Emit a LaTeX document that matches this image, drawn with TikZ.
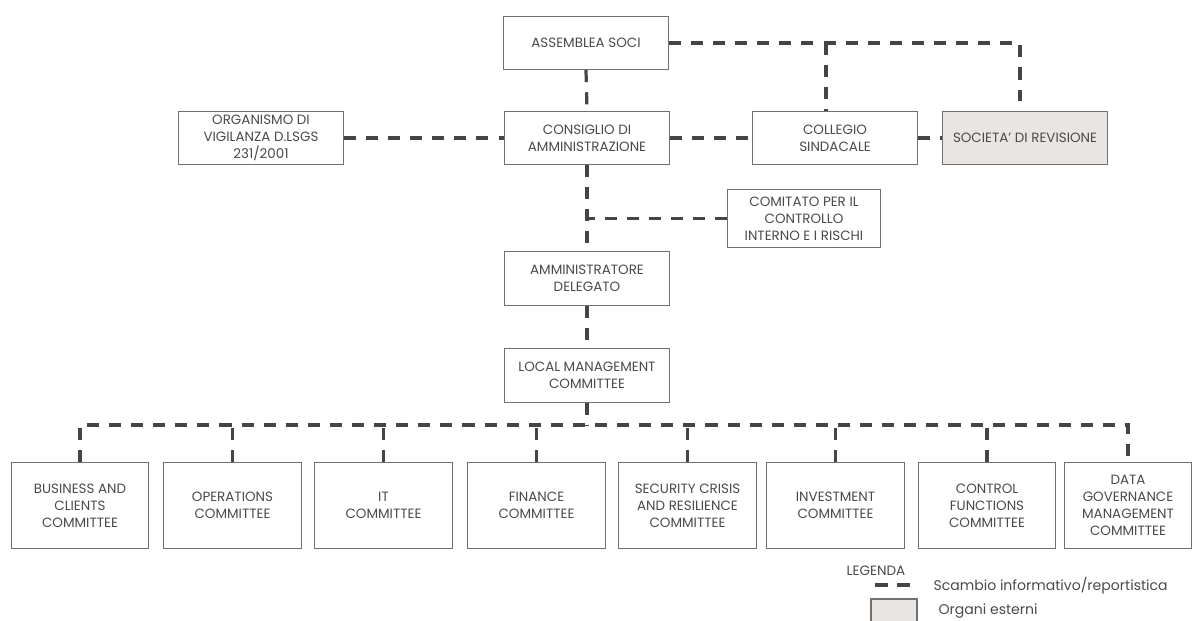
\documentclass[tikz,border=0pt]{standalone}
\usepackage{fontspec}
\setmainfont{Poppins}
\usepackage{xcolor}
\usepackage{tikz}
\definecolor{boxgray}{HTML}{707070}
\definecolor{txtgray}{HTML}{4A4A4A}
\definecolor{linkgray}{HTML}{454545}
\definecolor{extgray}{HTML}{E9E5E3}

\begin{document}
\begin{tikzpicture}[x=0.35cm,y=0.35cm,
    box/.style={draw=boxgray, line width=1.1pt, text=txtgray, align=center,
        minimum width=164pt, minimum height=53pt, inner sep=0pt,
        font=\fontsize{13.4}{17}\selectfont},
    extbox/.style={box, fill=extgray},
    cbox/.style={box, minimum width=137pt, minimum height=85pt},
    legtext/.style={anchor=west, text=txtgray, font=\fontsize{14}{16}\selectfont},
    link/.style={draw=linkgray, line width=3.2pt, dash pattern=on 12pt off 10pt}]
                \useasboundingbox (0,0) rectangle (119.3,-62.1);
                \node [box] (assemblea) at (58.6,-4.3) {ASSEMBLEA SOCI};
                \node [box] (consiglio) at (58.7,-13.8) {CONSIGLIO DI\\AMMINISTRAZIONE};
                \node [box] (organismo) at (26.1,-13.8) {ORGANISMO DI\\VIGILANZA D.LSGS\\231/2001};
                \node [box] (collegio) at (83.5,-13.8) {COLLEGIO\\SINDACALE};
                \node [extbox] (societa) at (102.5,-13.8) {SOCIETA' DI REVISIONE};
                \node [box, minimum width=152pt, minimum height=57pt] (comitato) at (80.4,-21.85) {COMITATO PER IL\\CONTROLLO\\INTERNO E I RISCHI};
                \node [box] (ammin) at (58.7,-27.85) {AMMINISTRATORE\\DELEGATO};
                \node [box] (local) at (58.7,-37.55) {LOCAL MANAGEMENT\\COMMITTEE};
                \coordinate (bus) at (58.7,-42.5);
                \node [cbox] (business) at (8.0,-50.55) {BUSINESS AND\\CLIENTS\\COMMITTEE};
                \node [cbox] (operations) at (23.25,-50.55) {OPERATIONS\\COMMITTEE};
                \node [cbox] (it) at (38.35,-50.55) {IT\\COMMITTEE};
                \node [cbox] (finance) at (53.65,-50.55) {FINANCE\\COMMITTEE};
                \node [cbox] (security) at (68.75,-50.55) {SECURITY CRISIS\\AND RESILIENCE\\COMMITTEE};
                \node [cbox] (investment) at (83.55,-50.55) {INVESTMENT\\COMMITTEE};
                \node [cbox] (control) at (98.7,-50.55) {CONTROL\\FUNCTIONS\\COMMITTEE};
                \node [cbox, minimum width=126pt] (data) at (112.8,-50.55) {DATA\\GOVERNANCE\\MANAGEMENT\\COMMITTEE};
                \coordinate (colltop) at ([xshift=-9pt]collegio.north);
                \coordinate (soctop) at ([xshift=-5pt,yshift=10pt]societa.north);
                \draw [link] (assemblea.south) -- (consiglio.north);
                \draw [link] (assemblea.east) -| (soctop);
                \draw [link] (colltop |- assemblea.east) -- (colltop);
                \draw [link] (organismo.east) -- (consiglio.west);
                \draw [link] (consiglio.east) -- (collegio.west);
                \draw [link] (collegio.east) -- (societa.west);
                \draw [link] (consiglio.south) -- (ammin.north);
                \draw [link] (comitato.west) -- (comitato.west -| consiglio.south);
                \draw [link] (ammin.south) -- (local.north);
                \draw [link] (local.south) -- (bus);
                \draw [link] (business.north) |- (bus) -| (data.north);
                \foreach \c in {operations,it,finance,security,investment,control}
                    \draw [link] (\c.north) -- (\c.north |- bus);
                \node [text=txtgray, font=\fontsize{13.5}{15}\selectfont] (legenda) at (87.6,-57.1) {LEGENDA};
                \coordinate (dashA) at (87.5,-58.5);
                \coordinate (dashB) at (91.0,-58.5);
                \draw [link, dash pattern=on 13pt off 9pt] (dashA) -- (dashB);
                \node [legtext] (scambio) at (93.0,-58.6) {Scambio informativo/reportistica};
                \draw [draw=boxgray, line width=1.1pt, fill=extgray] (87.1,-62.4) |- (91.7,-59.9) -- (91.7,-62.4);
                \node [legtext] (esterni) at (93.5,-61.1) {Organi esterni};
            \end{tikzpicture}
\end{document}
